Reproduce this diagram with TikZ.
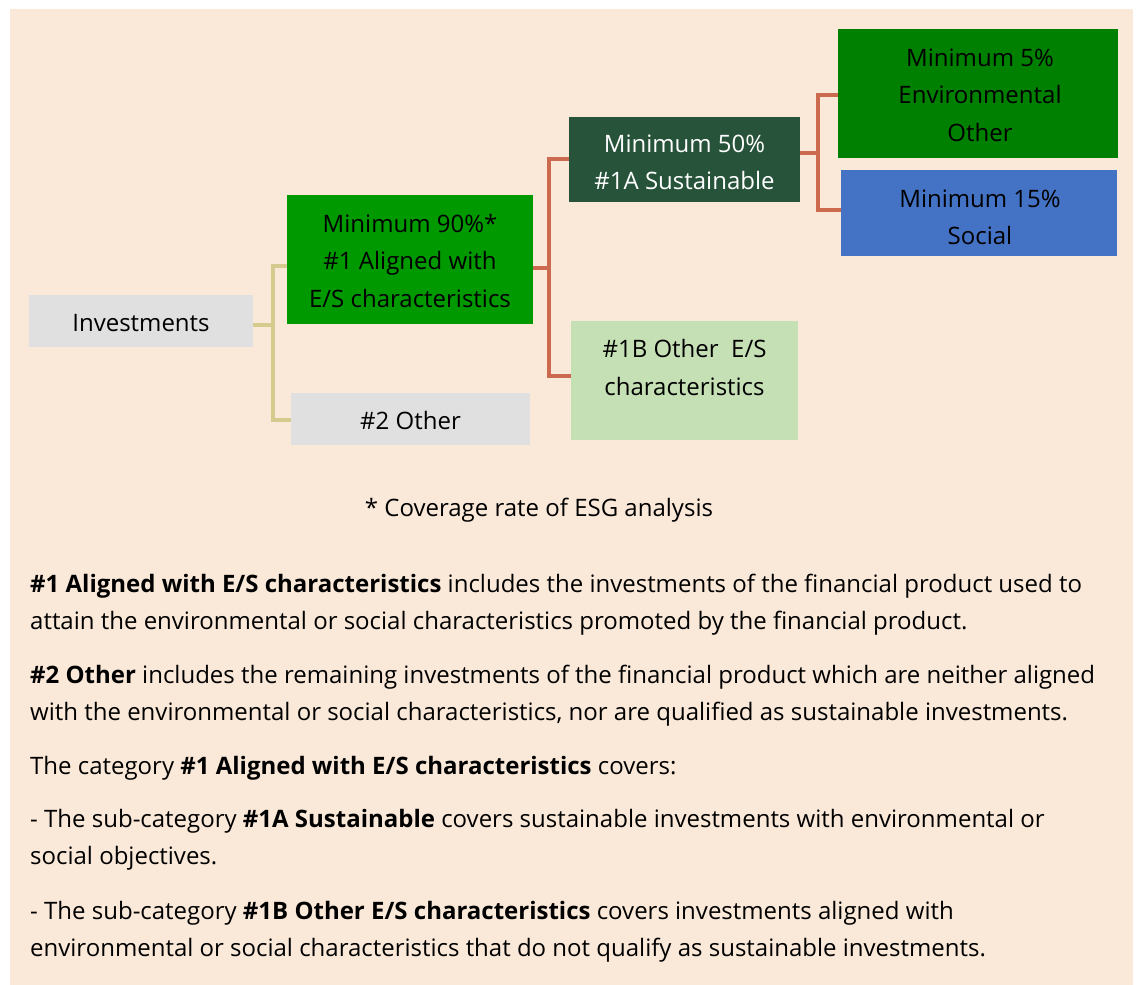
\documentclass[tikz,border=0pt]{standalone}
\usepackage{fontspec}
\setmainfont{Open Sans}
\definecolor{bg}{HTML}{FAE8D8}
\definecolor{boxgray}{HTML}{E0E0E0}
\definecolor{gA}{HTML}{009900}
\definecolor{gDark}{HTML}{27533A}
\definecolor{gEnv}{HTML}{008000}
\definecolor{bSoc}{HTML}{4472C4}
\definecolor{gLight}{HTML}{C5E0B4}
\definecolor{tanc}{HTML}{D6CB8E}
\definecolor{redc}{HTML}{CC6A50}
\tikzset{
  catbox/.style={inner sep=0pt, align=center, font=\fontsize{24}{37.5}\selectfont},
  tanline/.style={draw=tanc, line width=4pt},
  redline/.style={draw=redc, line width=4pt},
  para/.style={anchor=north west, inner sep=0pt, align=left, font=\fontsize{24}{37}\selectfont}
}
\begin{document}
\begin{tikzpicture}[x=1pt,y=-1pt]
\useasboundingbox (0,0) rectangle (1138,985);
\fill[bg] (10,9) rectangle (1133,985);
% boxes
\fill[boxgray] (29,295) rectangle (253,347);
\node[catbox] (inv) at (141,323) {Investments};
\fill[gA] (287,195) rectangle (533,324);
\node[catbox] (al) at (410,260.5) {Minimum 90\%*\\\#1 Aligned with\\E/S characteristics};
\fill[boxgray] (291,393) rectangle (530,445);
\node[catbox] (oth) at (410.5,420.5) {\#2 Other};
\fill[gDark] (569,117) rectangle (800,202);
\node[catbox, text=white] (s50) at (684.5,162.5) {Minimum 50\%\\\#1A Sustainable};
\fill[gLight] (571,321) rectangle (798,440);
\node[catbox] (o1b) at (684.5,367.5) {\#1B Other\ \ E/S\\characteristics};
\fill[gEnv] (838,29) rectangle (1118,158);
\node[catbox] (e5) at (980,95) {Minimum 5\%\\Environmental\\Other};
\fill[bSoc] (841,170) rectangle (1117,256);
\node[catbox] (s15) at (980,217.5) {Minimum 15\%\\Social};
% connectors
\coordinate (jt) at (273,266);
\coordinate (jb) at (273,420);
\draw[tanline] (253,325) -- (273,325);
\draw[tanline] (287,266) -- (jt) -- (jb) -- (291,420);
\coordinate (rt) at (549,159);
\coordinate (rb) at (549,376);
\draw[redline] (533,268) -- (549,268);
\draw[redline] (569,159) -- (rt) -- (rb) -- (571,376);
\coordinate (qt) at (818,95);
\coordinate (qb) at (818,210);
\draw[redline] (800,153) -- (818,153);
\draw[redline] (838,95) -- (qt) -- (qb) -- (841,210);
% note
\node[catbox] (note) at (539,510) {* Coverage rate of ESG analysis};
% paragraphs
\node[para] (p1) at (30,574) {\textbf{\#1 Aligned with E/S characteristics} includes the investments of the financial product used to\\attain the environmental or social characteristics promoted by the financial product.};
\node[para] (p2) at (30,665) {\textbf{\#2 Other} includes the remaining investments of the financial product which are neither aligned\\with the environmental or social characteristics, nor are qualified as sustainable investments.};
\node[para] (p3) at (30,756) {The category \textbf{\#1 Aligned with E/S characteristics} covers:};
\node[para] (p4) at (30,809) {- The sub-category \textbf{\#1A Sustainable} covers sustainable investments with environmental or\\social objectives.};
\node[para] (p5) at (30,901) {- The sub-category \textbf{\#1B Other E/S characteristics} covers investments aligned with\\environmental or social characteristics that do not qualify as sustainable investments.};
\end{tikzpicture}
\end{document}
